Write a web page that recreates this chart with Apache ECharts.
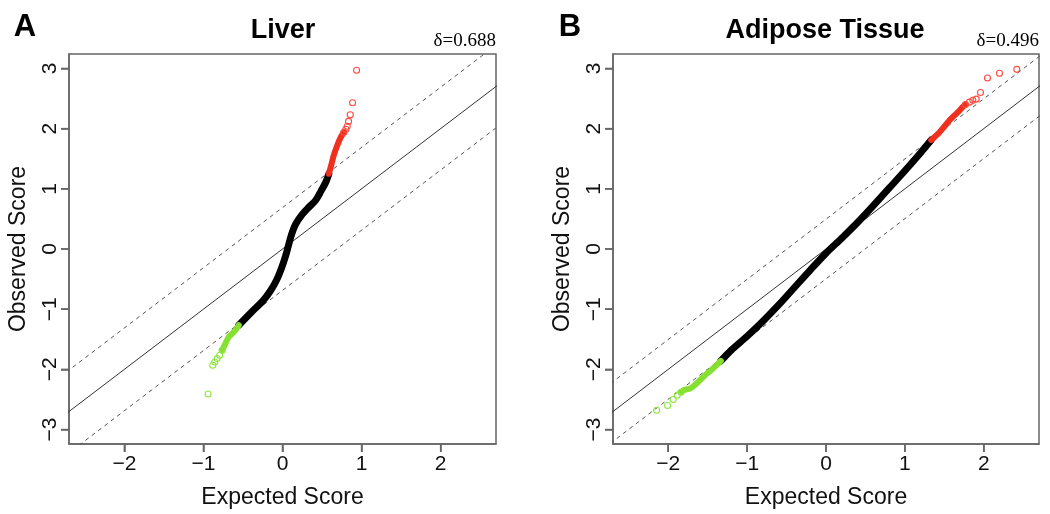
<!DOCTYPE html>
<html>
<head>
<meta charset="utf-8">
<script src="https://cdn.jsdelivr.net/npm/echarts@6/dist/echarts.min.js"></script>
<style>html,body{margin:0;padding:0;background:#fff}#c{width:1050px;height:514px}</style>
</head>
<body>
<div id="c"></div>
<script>
// ---------- data ----------
const panelTitles = ['Liver', 'Adipose Tissue'];
const panelLetters = ['A', 'B'];
const deltas = [0.688, 0.496];
const xTicks = [-2, -1, 0, 1, 2];
const yTicks = [-3, -2, -1, 0, 1, 2, 3];
const xRange = [-2.7, 2.7];
const yRange = [-3.24, 3.24];
const xTitle = 'Expected Score';
const yTitle = 'Observed Score';

// Liver
const liverBlack = [[-0.553,-1.267],[-0.40,-1.06],[-0.24,-0.85],[-0.15,-0.69],[-0.076,-0.52],[-0.013,-0.32],[0.038,-0.12],[0.076,0.06],[0.114,0.24],[0.165,0.41],[0.24,0.56],[0.33,0.69],[0.42,0.81],[0.49,0.97],[0.544,1.10],[0.586,1.25]];
const liverGreenBand = [[-0.553,-1.267],[-0.616,-1.379],[-0.680,-1.462],[-0.722,-1.571],[-0.763,-1.683]];
const liverGreenSparse = [[-0.763,-1.683],[-0.794,-1.766],[-0.827,-1.821],[-0.857,-1.877],[-0.882,-1.932],[-0.941,-2.409]];
const liverRedBand = [[0.586,1.25],[0.616,1.39],[0.649,1.56],[0.692,1.72],[0.734,1.85],[0.776,1.94]];
const liverRedSparse = [[0.776,1.94],[0.801,1.99],[0.819,2.04],[0.835,2.12],[0.857,2.23],[0.886,2.43],[0.937,2.97]];

// Adipose tissue
const adiposeBlack = [[-1.333,-1.86],[-1.2,-1.68],[-1.0,-1.45],[-0.8,-1.2],[-0.6,-0.93],[-0.4,-0.64],[-0.2,-0.35],[0,-0.07],[0.2,0.18],[0.4,0.44],[0.6,0.72],[0.8,1.01],[1.0,1.3],[1.2,1.6],[1.334,1.81]];
const adiposeGreenBand = [[-1.839,-2.38],[-1.788,-2.34],[-1.725,-2.32],[-1.662,-2.26],[-1.599,-2.18],[-1.535,-2.10],[-1.472,-2.03],[-1.387,-1.93],[-1.333,-1.86]];
const adiposeGreenSparse = [[-2.147,-2.68],[-2.008,-2.60],[-1.937,-2.50],[-1.886,-2.43],[-1.839,-2.38]];
const adiposeRedBand = [[1.334,1.81],[1.376,1.86],[1.439,1.94],[1.503,2.04],[1.566,2.14],[1.629,2.22],[1.692,2.30],[1.734,2.36],[1.768,2.40]];
const adiposeRedSparse = [[1.768,2.40],[1.819,2.44],[1.861,2.47],[1.904,2.49],[1.958,2.60],[2.047,2.84],[2.199,2.92],[2.418,2.985]];

// ---------- styles ----------
const BOX = '#666666';
const RED = '#f0301e';
const RED_C = '#ff4a40';
const GREEN = '#86e030';
const GREEN_C = '#8ee640';
const SANS = '"Liberation Sans", Arial, Helvetica, sans-serif';
const SERIF = '"Liberation Serif", "Times New Roman", serif';
const TICK_LEN = 8;

const minus = v => (v < 0 ? '\u2212' + Math.abs(v) : String(v));

const grids = [
  { left: 69, right: 554, top: 54, bottom: 70 },
  { left: 613, right: 11, top: 54, bottom: 70 }
].map(g => Object.assign(g, { show: true, borderColor: BOX, borderWidth: 1.5, backgroundColor: 'transparent', containLabel: false }));

function xAxisFor(i) {
  return {
    type: 'value', gridIndex: i, min: xRange[0], max: xRange[1], position: 'bottom',
    name: xTitle, nameLocation: 'middle', nameGap: 42,
    nameTextStyle: { fontFamily: SANS, fontSize: 23, color: '#111' },
    axisLine: { show: true, onZero: false, lineStyle: { color: BOX, width: 1.5 } },
    splitLine: { show: false },
    axisTick: { show: true, inside: false, customValues: xTicks, length: TICK_LEN, lineStyle: { color: BOX, width: 1.5 } },
    axisLabel: { customValues: xTicks, formatter: minus, fontFamily: SANS, fontSize: 21, color: '#111', margin: 10 }
  };
}
function yAxisFor(i) {
  return {
    type: 'value', gridIndex: i, min: yRange[0], max: yRange[1], position: 'left',
    name: yTitle, nameLocation: 'middle', nameGap: 39,
    nameTextStyle: { fontFamily: SANS, fontSize: 23, color: '#111' },
    axisLine: { show: true, onZero: false, lineStyle: { color: BOX, width: 1.5 } },
    splitLine: { show: false },
    axisTick: { show: true, inside: false, customValues: yTicks, length: TICK_LEN, lineStyle: { color: BOX, width: 1.5 } },
    axisLabel: { customValues: yTicks, formatter: minus, fontFamily: SANS, fontSize: 21, color: '#111', rotate: 90, margin: 8 }
  };
}

function refLine(i, off, dashed) {
  const ext = [xRange[0] - 1, xRange[1] + 1];
  return {
    type: 'line', xAxisIndex: i, yAxisIndex: i, silent: true, symbol: 'none', clip: true, z: 1,
    data: ext.map(x => [x, x + off]),
    lineStyle: { color: dashed ? '#555' : '#333', width: 1, type: dashed ? [4, 4] : 'solid' }
  };
}
function band(i, data, color, width) {
  return {
    type: 'line', xAxisIndex: i, yAxisIndex: i, data, smooth: 0.3, z: 3,
    symbol: 'none', showSymbol: false,
    lineStyle: { color, width, cap: 'round', join: 'round' }
  };
}
function sparse(i, data, color) {
  return {
    type: 'scatter', xAxisIndex: i, yAxisIndex: i, data, symbol: 'circle', symbolSize: 6, z: 4,
    itemStyle: { color: 'rgba(255,255,255,0)', borderColor: color, borderWidth: 1.1, opacity: 1 }
  };
}

const series = [];
[0, 1].forEach(i => {
  series.push(refLine(i, 0, false), refLine(i, deltas[i], true), refLine(i, -deltas[i], true));
});
series.push(
  band(0, liverBlack, '#000', 7),
  band(0, liverGreenBand, GREEN, 6),
  sparse(0, liverGreenSparse, GREEN_C),
  band(0, liverRedBand, RED, 6),
  sparse(0, liverRedSparse, RED_C),
  band(1, adiposeBlack, '#000', 7),
  band(1, adiposeGreenBand, GREEN, 6),
  sparse(1, adiposeGreenSparse, GREEN_C),
  band(1, adiposeRedBand, RED, 6),
  sparse(1, adiposeRedSparse, RED_C)
);

const titleCenters = [283, 825];
const letterX = [25, 570];
const boxRight = [496, 1039];
const graphic = [];
[0, 1].forEach(i => {
  graphic.push(
    { type: 'text', x: titleCenters[i], y: 31, style: { text: panelTitles[i], font: 'bold 27px ' + SANS, fill: '#000', align: 'center', verticalAlign: 'middle' } },
    { type: 'text', x: letterX[i], y: 27, style: { text: panelLetters[i], font: 'bold 31px ' + SANS, fill: '#000', align: 'center', verticalAlign: 'middle' } },
    { type: 'text', x: boxRight[i], y: 51, style: { text: '\u03b4=' + deltas[i].toFixed(3), font: '19px ' + SERIF, fill: '#000', align: 'right', verticalAlign: 'bottom' } }
  );
});

const chart = echarts.init(document.getElementById('c'));
chart.setOption({
  animation: false,
  backgroundColor: '#fff',
  grid: grids,
  xAxis: [xAxisFor(0), xAxisFor(1)],
  yAxis: [yAxisFor(0), yAxisFor(1)],
  series,
  graphic
});

// tick marks placed with the library's own scales (convertToPixel)
const tickGraphics = [];
[0, 1].forEach(i => {
  xTicks.forEach(v => {
    const p = chart.convertToPixel({ gridIndex: i }, [v, yRange[0]]);
    tickGraphics.push({ type: 'rect', z: 100, shape: { x: p[0] - 0.75, y: p[1], width: 1.5, height: TICK_LEN }, style: { fill: BOX } });
  });
  yTicks.forEach(v => {
    const p = chart.convertToPixel({ gridIndex: i }, [xRange[0], v]);
    tickGraphics.push({ type: 'rect', z: 100, shape: { x: p[0] - TICK_LEN, y: p[1] - 0.75, width: TICK_LEN, height: 1.5 }, style: { fill: BOX } });
  });
});
chart.setOption({ graphic: graphic.concat(tickGraphics) });
</script>
</body>
</html>
